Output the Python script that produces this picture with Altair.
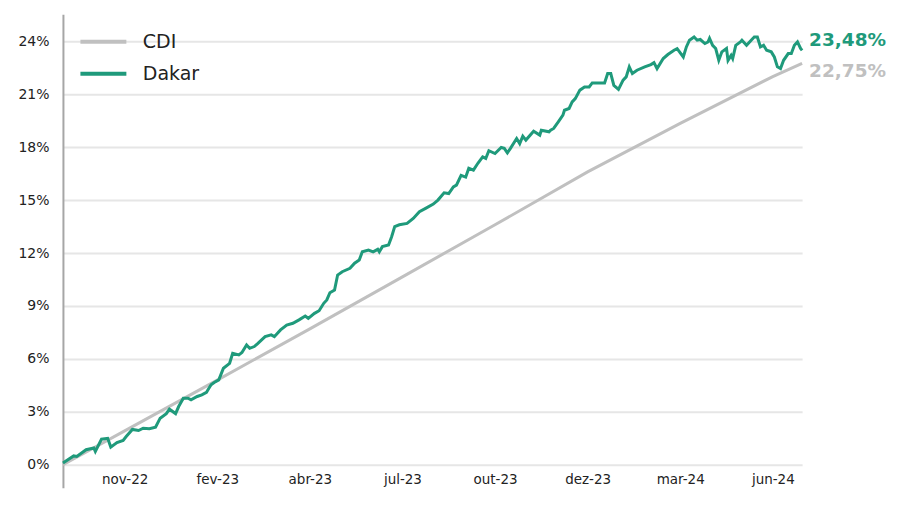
import altair as alt
import pandas as pd

# ---- data (index = trading-day position, value in %) ----
dakar_t = [0, 7, 9, 15, 20, 21, 25, 29, 31, 35, 39, 41, 45, 49, 52, 56, 60, 63, 67, 69, 73, 75, 78, 81, 83, 87, 90, 93, 94, 96, 98, 101, 104, 108, 110, 114, 116, 119, 121, 124, 126,
           131, 135, 137, 141, 145, 149, 153, 157, 159, 163, 166, 169, 171, 173, 176, 178, 181, 186, 189, 192, 194, 198, 201, 204, 205, 207, 211, 213, 215, 218, 223, 227, 231, 235, 240, 243, 247, 250,
           253, 255, 258, 261, 263, 266, 269, 272, 274, 276, 280, 284, 286, 288, 290, 294, 296, 298, 300, 305, 309, 310, 315, 316, 318, 321, 324, 325, 328, 330, 332, 335, 338, 341, 343, 346, 351, 353, 355, 357, 360, 363, 365, 367, 369, 372,
           377, 381, 383, 385, 389, 392, 396, 398, 402, 404, 406, 409, 411, 413, 416, 418, 419, 421, 423, 425, 427, 430, 431, 433, 434, 436, 439, 440, 443, 446, 448, 450, 452, 454, 456, 459, 461, 463, 465, 467, 470, 472, 474, 476, 478, 479]
dakar_v = [0.1, 0.5, 0.47, 0.85, 0.95, 0.75, 1.45, 1.5, 1.0, 1.26, 1.38, 1.6, 2.0, 1.94, 2.07, 2.04, 2.13, 2.64, 2.9, 3.15, 2.9, 3.3, 3.77, 3.77, 3.68, 3.87, 3.96, 4.1, 4.25, 4.53, 4.66, 4.81, 5.47, 5.75, 6.32, 6.23, 6.36, 6.79, 6.6, 6.7, 6.85,
           7.26, 7.36, 7.26, 7.64, 7.92, 8.02, 8.21, 8.43, 8.3, 8.58, 8.73, 9.15, 9.34, 9.75, 9.9, 10.75, 10.94, 11.13, 11.42, 11.6, 12.07, 12.17, 12.07, 12.21, 12.07, 12.36, 12.45, 12.92, 13.5, 13.6, 13.68, 13.96, 14.34, 14.53, 14.77, 15.0, 15.41, 15.37,
           15.75, 15.85, 16.4, 16.3, 16.8, 16.7, 17.1, 17.45, 17.36, 17.8, 17.64, 17.98, 17.93, 17.68, 17.93, 18.49, 18.2, 18.62, 18.4, 18.9, 18.68, 18.96, 18.87, 18.96, 19.06, 19.43, 19.81, 20.09, 20.19, 20.56, 20.75, 21.23, 21.41, 21.41, 21.64, 21.64, 21.64, 22.17, 22.17, 21.5, 21.27, 21.8, 21.98, 22.55, 22.17, 22.36,
           22.55, 22.68, 22.79, 22.45, 23.02, 23.25, 23.49, 23.58, 23.11, 23.68, 24.06, 24.24, 24.06, 24.1, 23.87, 23.96, 24.17, 23.77, 23.59, 22.92, 23.4, 23.59, 22.92, 23.2, 23.02, 23.77, 23.96, 24.06, 23.77, 24.06, 24.24, 24.24, 23.68, 23.77, 23.49, 23.4, 23.11, 22.55, 22.45, 22.92, 23.3, 23.3, 23.77, 23.96, 23.59, 23.48]
cdi_t = [0, 40, 100, 160, 220, 280, 340, 400, 460, 479]
cdi_v = [0.0, 1.92, 4.8, 7.7, 10.65, 13.6, 16.6, 19.35, 22.0, 22.75]

series_names = ["CDI", "Dakar"]
series_colors = ["#c0c0c0", "#1f9a7b"]
end_values = [22.75, 23.48]
end_labels = ["22,75%", "23,48%"]

tick_positions = [40, 100, 160, 220, 280, 340, 400, 460]
tick_labels = ["nov-22", "fev-23", "abr-23", "jul-23", "out-23", "dez-23", "mar-24", "jun-24"]
y_ticks = [0, 3, 6, 9, 12, 15, 18, 21, 24]

FONT = "DejaVu Sans"

lines_df = pd.concat([
    pd.DataFrame({"t": cdi_t, "v": cdi_v, "s": "CDI"}),
    pd.DataFrame({"t": dakar_t, "v": dakar_v, "s": "Dakar"}),
], ignore_index=True)
labels_df = pd.DataFrame({"t": [cdi_t[-1], dakar_t[-1]], "v": end_values,
                          "s": series_names, "lab": end_labels})

label_expr = "[" + ",".join("'%s'" % l for l in tick_labels) + "][round((datum.value-40)/60)]"

x_scale = alt.Scale(domain=[0, 479], nice=False, zero=False)
y_scale = alt.Scale(domain=[-1.302, 25.53], nice=False, zero=False)
color_scale = alt.Scale(domain=series_names, range=series_colors)

x_enc = alt.X("t:Q", scale=x_scale, axis=alt.Axis(
    values=tick_positions, labelExpr=label_expr, grid=False, domain=False, ticks=False,
    offset=-23, labelPadding=8, labelFontSize=13.5, labelFont=FONT, labelColor="#222", title=None))
y_enc = alt.Y("v:Q", scale=y_scale, axis=alt.Axis(
    values=y_ticks, labelExpr="datum.value + '%'", grid=True, gridColor="#e6e6e6", gridWidth=2,
    domainColor="#a6a6a6", domainWidth=2, ticks=False, labelPadding=14, labelFontSize=14,
    labelFont=FONT, labelColor="#222", title=None))

lines = alt.Chart(lines_df).mark_line(strokeWidth=3, interpolate="linear").encode(
    x=x_enc, y=y_enc,
    color=alt.Color("s:N", scale=color_scale, sort=series_names, legend=alt.Legend(
        title=None, orient="none", legendX=27, legendY=14, symbolType="M-2,0H2", symbolSize=529,
        symbolStrokeWidth=4, labelFontSize=19, labelFont=FONT, labelColor="#222",
        rowPadding=8, labelOffset=26)),
    order=alt.Order("t:Q"),
)

base_lab = alt.Chart(labels_df)
lab_top = base_lab.transform_filter("datum.s == 'Dakar'").mark_text(
    align="left", baseline="middle", dx=7, dy=-10, fontSize=18.5, fontWeight="bold", font=FONT
).encode(x=alt.X("t:Q", scale=x_scale), y=alt.Y("v:Q", scale=y_scale), text="lab:N",
         color=alt.Color("s:N", scale=color_scale, legend=None))
lab_bot = base_lab.transform_filter("datum.s == 'CDI'").mark_text(
    align="left", baseline="middle", dx=7, dy=8, fontSize=18.5, fontWeight="bold", font=FONT
).encode(x=alt.X("t:Q", scale=x_scale), y=alt.Y("v:Q", scale=y_scale), text="lab:N",
         color=alt.Color("s:N", scale=color_scale, legend=None))

chart = alt.layer(lines, lab_top, lab_bot).properties(
    width=740, height=474,
    autosize=alt.AutoSizeParams(type="none"),
    padding={"left": 55, "top": 6, "right": 100, "bottom": 10},
).configure_view(stroke=None)

chart.save("out.html", embed_options={"renderer": "svg", "actions": False})
